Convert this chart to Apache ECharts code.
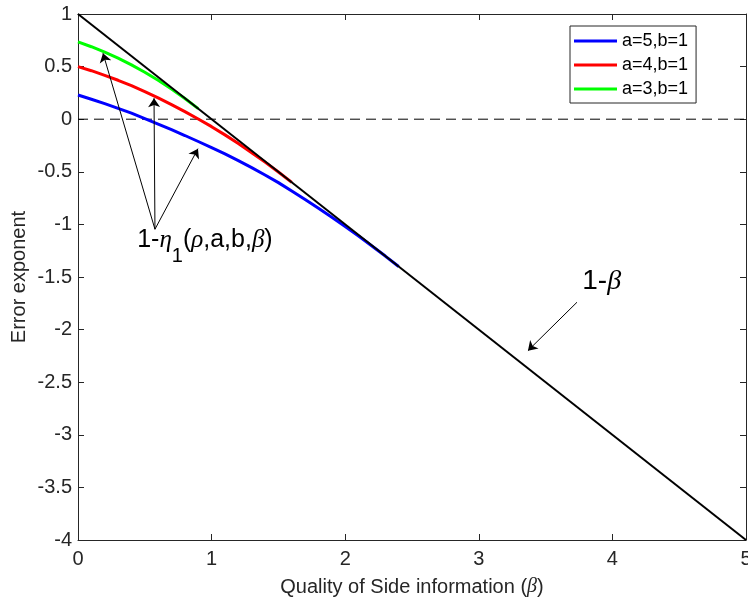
<!DOCTYPE html>
<html><head><meta charset="utf-8">
<script src="https://cdn.jsdelivr.net/npm/echarts@6/dist/echarts.min.js"></script>
<style>html,body{margin:0;padding:0;background:#fff}#c{width:748px;height:604px}</style>
</head><body><div id="c"></div>
<script>
// ---- data ----
const beta = [0,0.1,0.2,0.3,0.4,0.5,0.6,0.7,0.8,0.9,1.0,1.1,1.2,1.3,1.4,1.5,1.6,1.7,1.8,1.9,2.0,2.1,2.2,2.3,2.4];
const blueA5 = [0.23,0.19,0.148,0.103,0.057,0.006,-0.046,-0.10,-0.155,-0.212,-0.27,-0.33,-0.394,-0.46,-0.53,-0.603,-0.683,-0.764,-0.847,-0.932,-1.02,-1.111,-1.205,-1.301,-1.4];
const redA4 = [0.5,0.461,0.417,0.370,0.319,0.262,0.202,0.139,0.072,0.002,-0.071,-0.149,-0.231,-0.318,-0.408,-0.502,-0.6];
const greenA3 = [0.735,0.689,0.637,0.580,0.516,0.446,0.370,0.286,0.197,0.1];
const lineBeta = [0,5];
const lineVals = [1,-4];
const zeroVals = [0,0];
const seriesNames = ['a=5,b=1','a=4,b=1','a=3,b=1'];
const xTicks = [0,1,2,3,4,5];
const yTicks = [-4,-3.5,-3,-2.5,-2,-1.5,-1,-0.5,0,0.5,1];
// annotation anchors (data coordinates)
const arrowTail = [0.576,-1.046];
const arrowHeads = [[0.187,0.627],[0.569,0.20],[0.898,-0.28]];
const betaArrow = [[3.735,-1.74],[3.368,-2.20]];
const labelEta = [0.95,-1.215];
const labelBeta = [3.92,-1.54];

const pairs = (xs, ys) => ys.map((y,i)=>[xs[i],y]);
const FF = '"Liberation Sans", Arial, Helvetica, sans-serif';
const GF = '"Liberation Serif", "DejaVu Serif", serif';
const AX = '#262626';

const chart = echarts.init(document.getElementById('c'), null, {renderer:'canvas'});
const baseX = {type:'value', min:xTicks[0], max:xTicks[xTicks.length-1], interval:xTicks[1]-xTicks[0],
  splitLine:{show:false}, axisLine:{onZero:false, lineStyle:{color:AX,width:1}},
  axisTick:{inside:true,length:6,lineStyle:{color:AX}}};
const baseY = {type:'value', min:yTicks[0], max:yTicks[yTicks.length-1], interval:yTicks[1]-yTicks[0],
  splitLine:{show:false}, axisLine:{onZero:false, lineStyle:{color:AX,width:1}},
  axisTick:{inside:true,length:6,lineStyle:{color:AX}}};

chart.setOption({
  animation:false,
  backgroundColor:'#fff',
  grid:{left:78, right:2, top:14, bottom:64, containLabel:false, outerBoundsMode:'none'},
  xAxis:[
    Object.assign({}, baseX, {position:'bottom',
      axisLabel:{fontSize:20, margin:9, color:AX, fontFamily:FF, showMinLabel:true, showMaxLabel:true},
      name:'Quality of Side information ({g|β})', nameLocation:'middle', nameGap:37, nameMoveOverlap:false,
      nameTextStyle:{fontSize:20, color:AX, fontFamily:FF, rich:{g:{fontSize:20, fontStyle:'italic', fontFamily:GF, color:AX}}}}),
    Object.assign({}, baseX, {position:'top', axisLabel:{show:false}})
  ],
  yAxis:[
    Object.assign({}, baseY, {position:'left',
      axisLabel:{fontSize:20, margin:6, color:AX, fontFamily:FF, showMinLabel:true, showMaxLabel:true},
      name:'Error exponent', nameLocation:'middle', nameGap:49, nameMoveOverlap:false,
      nameTextStyle:{fontSize:20, color:AX, fontFamily:FF}}),
    Object.assign({}, baseY, {position:'right', axisLabel:{show:false}})
  ],
  legend:{data:seriesNames, orient:'vertical', left:570, top:26, padding:[6,8,5,4], itemGap:6,
    icon:'rect', itemWidth:43, itemHeight:3, borderColor:AX, borderWidth:1, borderRadius:0, backgroundColor:'#fff',
    textStyle:{fontSize:18, lineHeight:18, fontFamily:FF, color:'#000'}},
  series:[
    {name:'zero', type:'line', data:pairs(lineBeta, zeroVals), symbol:'none', silent:true,
      lineStyle:{color:'#000', width:1, type:[10,6]}},
    {name:seriesNames[0], type:'line', data:pairs(beta, blueA5), symbol:'none', color:'#0000ff',
      lineStyle:{color:'#0000ff', width:3}},
    {name:seriesNames[1], type:'line', data:pairs(beta, redA4), symbol:'none', color:'#ff0000',
      lineStyle:{color:'#ff0000', width:3}},
    {name:seriesNames[2], type:'line', data:pairs(beta, greenA3), symbol:'none', color:'#00ff00',
      lineStyle:{color:'#00ff00', width:3}},
    {name:'1-beta', type:'line', data:pairs(lineBeta, lineVals), symbol:'none', silent:true,
      lineStyle:{color:'#000', width:2},
      markLine:{silent:true, symbol:['none','arrow'], symbolSize:9, animation:false,
        lineStyle:{color:'#000', width:1, type:'solid'}, label:{show:false},
        emphasis:{disabled:true},
        data:[
          [{coord:arrowTail},{coord:arrowHeads[0]}],
          [{coord:arrowTail},{coord:arrowHeads[1]}],
          [{coord:arrowTail},{coord:arrowHeads[2]}],
          [{coord:betaArrow[0]},{coord:betaArrow[1]}]
        ]},
      markPoint:{silent:true, symbol:'circle', symbolSize:0, animation:false,
        label:{show:true, position:'inside', color:'#000'},
        data:[
          {coord:labelEta, label:{formatter:'{n|1-}{g|η}{s|1}{n|(}{g|ρ}{n|,a,b,}{g|β}{n|)}',
            rich:{n:{fontSize:25, fontFamily:FF, color:'#000', lineHeight:28, verticalAlign:'top'},
                  g:{fontSize:25, fontFamily:GF, fontStyle:'italic', color:'#000', lineHeight:28, verticalAlign:'top'},
                  s:{fontSize:20, fontFamily:FF, color:'#000', lineHeight:38, verticalAlign:'bottom'}}}},
          {coord:labelBeta, label:{formatter:'{n|1-}{g|β}',
            rich:{n:{fontSize:28, fontFamily:FF, color:'#000'},
                  g:{fontSize:28, fontFamily:GF, fontStyle:'italic', color:'#000'}}}}
        ]}}
  ]
});
</script></body></html>
